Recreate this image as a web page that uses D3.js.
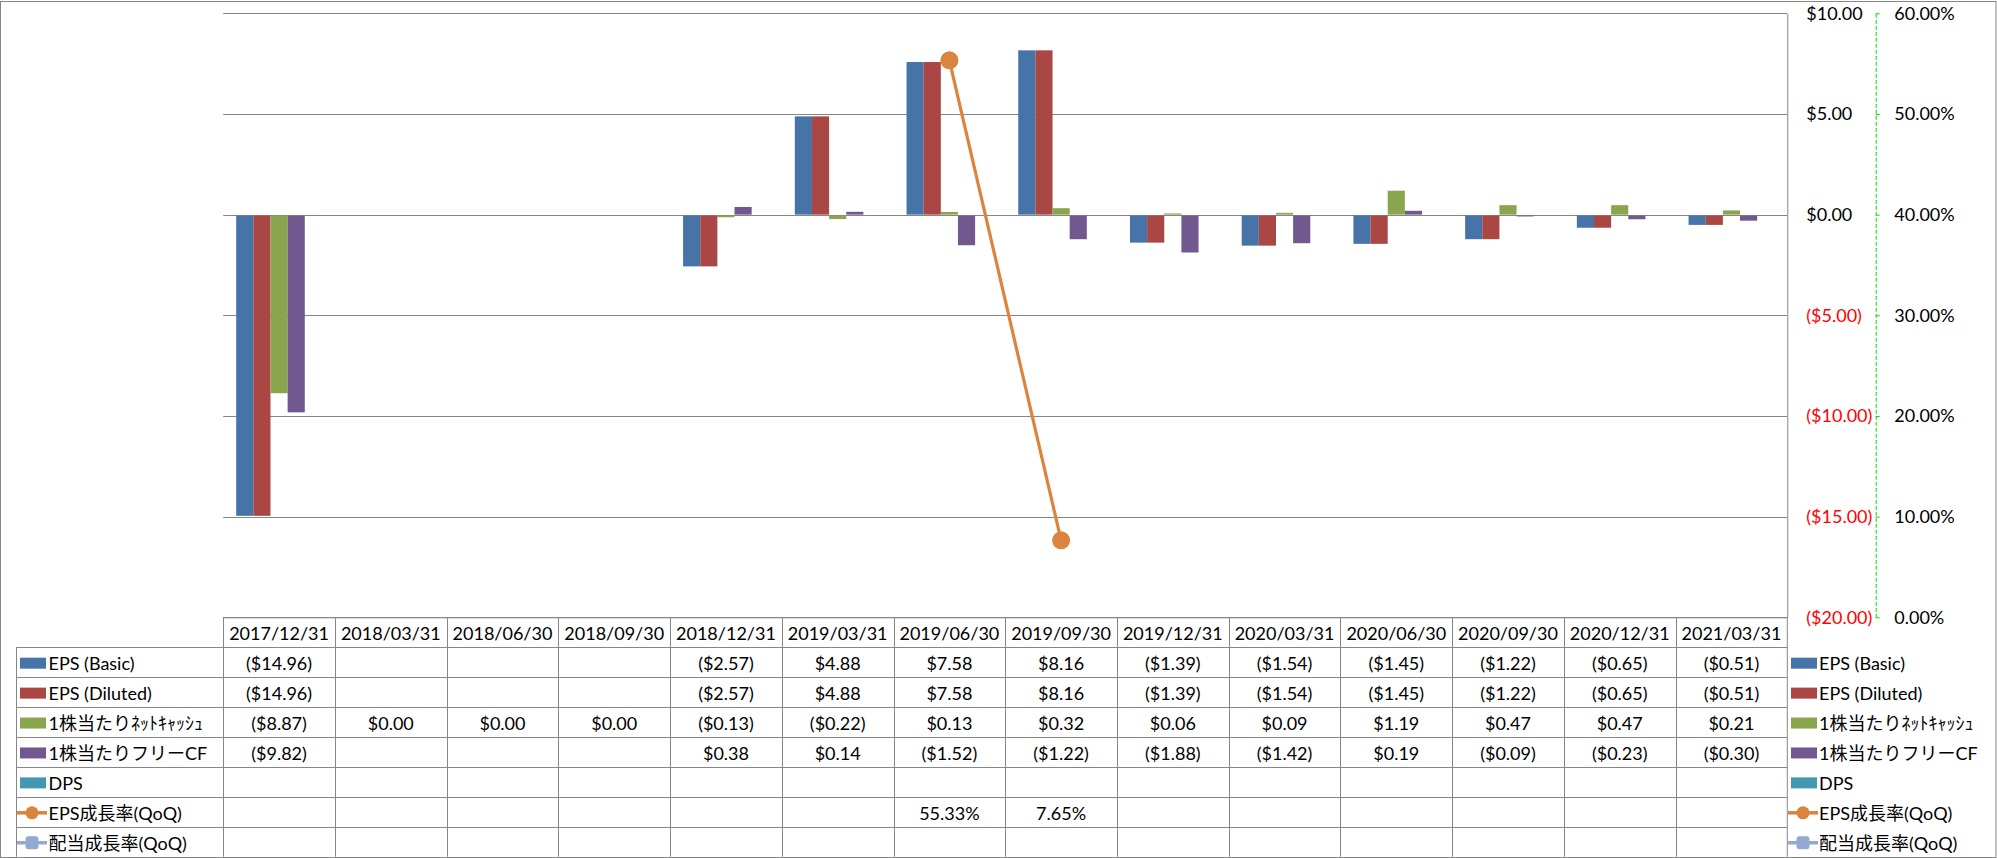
<!DOCTYPE html>
<html>
<head>
<meta charset="utf-8">
<script src="https://cdn.jsdelivr.net/npm/d3@7"></script>
<style>
  html, body { margin: 0; padding: 0; background: #fff; }
  svg { display: block; }
  text { font-family: Lato, "Noto Sans CJK JP", sans-serif; font-size: 18px; }
</style>
</head>
<body>
<svg id="chart" width="1997" height="858"></svg>
<script>
// ---- data ----
const categories = ["2017/12/31","2018/03/31","2018/06/30","2018/09/30","2018/12/31","2019/03/31","2019/06/30","2019/09/30","2019/12/31","2020/03/31","2020/06/30","2020/09/30","2020/12/31","2021/03/31"];
const seriesNames = ["EPS (Basic)","EPS (Diluted)","1株当たりﾈｯﾄｷｬｯｼｭ","1株当たりフリーCF","DPS","EPS成長率(QoQ)","配当成長率(QoQ)"];
const epsBasic   = [-14.96,null,null,null,-2.57,4.88,7.58,8.16,-1.39,-1.54,-1.45,-1.22,-0.65,-0.51];
const epsDiluted = [-14.96,null,null,null,-2.57,4.88,7.58,8.16,-1.39,-1.54,-1.45,-1.22,-0.65,-0.51];
const netCash    = [-8.87,0.00,0.00,0.00,-0.13,-0.22,0.13,0.32,0.06,0.09,1.19,0.47,0.47,0.21];
const freeCF     = [-9.82,null,null,null,0.38,0.14,-1.52,-1.22,-1.88,-1.42,0.19,-0.09,-0.23,-0.30];
const dps        = [null,null,null,null,null,null,null,null,null,null,null,null,null,null];
const epsGrowth  = [null,null,null,null,null,null,0.5533,0.0765,null,null,null,null,null,null];
const divGrowth  = [null,null,null,null,null,null,null,null,null,null,null,null,null,null];
const leftTicks  = [10,5,0,-5,-10,-15,-20];
const rightTicks = [0.6,0.5,0.4,0.3,0.2,0.1,0];

const colors = ["#4673A8","#AA4643","#89A54E","#71588F","#4198AF","#DB843D","#93A9CF"];
const barSeries = [epsBasic, epsDiluted, netCash, freeCF, dps];
const lineSeries = [epsGrowth, divGrowth];
const allSeries = [epsBasic, epsDiluted, netCash, freeCF, dps, epsGrowth, divGrowth];

// ---- layout ----
const svg = d3.select("#chart");
const W = 1997, H = 858;
const plotL = 223.2, plotR = 1787.3, plotT = 13.3, plotB = 617.3;
const tableBottom = 856.7;
const rowH = (tableBottom - plotB) / 8;
const legendL = 16.5;
const gridColor = "#868686";
const FONT = "Lato, 'Noto Sans CJK JP', sans-serif";

const x = d3.scaleBand().domain(categories).range([plotL, plotR]).padding(0);
const bw = x.bandwidth();
const gap = 26;
const x1 = d3.scaleBand().domain(d3.range(barSeries.length)).range([gap/2, bw - gap/2]).padding(0);
const yL = d3.scaleLinear().domain([-20, 10]).range([plotB, plotT]);
const yR = d3.scaleLinear().domain([0, 0.6]).range([plotB, plotT]);

const fmtCur = v => v < 0 ? "($" + Math.abs(v).toFixed(2) + ")" : "$" + v.toFixed(2);
const fmtPct = v => (v * 100).toFixed(2) + "%";

// outer border
svg.append("rect").attr("x", 0.5).attr("y", 1.5).attr("width", W - 1.5).attr("height", H - 2)
  .attr("fill", "#fff").attr("stroke", gridColor).attr("stroke-width", 1);

// gridlines
svg.append("g").selectAll("line").data(leftTicks).join("line")
  .attr("x1", plotL).attr("x2", plotR)
  .attr("y1", d => Math.round(yL(d)) + 0.5).attr("y2", d => Math.round(yL(d)) + 0.5)
  .attr("stroke", gridColor).attr("stroke-width", 1);

// bars
const barG = svg.append("g");
barSeries.forEach((vals, si) => {
  barG.append("g").selectAll("rect")
    .data(vals.map((v, i) => ({ v, c: categories[i] })).filter(d => d.v !== null))
    .join("rect")
    .attr("x", d => x(d.c) + x1(si))
    .attr("width", x1.bandwidth())
    .attr("y", d => Math.min(yL(d.v), yL(0)) + (d.v < 0 ? 1 : 0))
    .attr("height", d => Math.max(0, Math.abs(yL(d.v) - yL(0)) - (d.v < 0 ? 1 : 0)))
    .attr("fill", colors[si]);
});

// primary axis on right (vertical line at plot right)
const axL = d3.axisRight(yL).tickValues(leftTicks).tickSize(0).tickPadding(19).tickSizeOuter(0).tickFormat(fmtCur);
const gAxL = svg.append("g").attr("transform", `translate(${plotR},0)`).call(axL);
gAxL.select(".domain").attr("stroke", gridColor);
gAxL.selectAll("text").style("font-family", FONT).style("font-size", "18px")
  .style("fill", d => d < 0 ? "#FF0000" : "#000000");

// secondary axis (percent)
const axisXR = 1875.7;
const axR = d3.axisRight(yR).tickValues(rightTicks).tickSize(4).tickPadding(14.6).tickSizeOuter(0).tickFormat(d3.format(".2%"));
const gAxR = svg.append("g").attr("transform", `translate(${axisXR},0)`).call(axR);
gAxR.select(".domain").attr("stroke", "#00E000").attr("stroke-dasharray", "4,2");
gAxR.selectAll(".tick line").attr("stroke", "#00E000");
gAxR.selectAll("text").style("font-family", FONT).style("font-size", "18px").style("fill", "#000000");

// line series
lineSeries.forEach((vals, li) => {
  const pts = vals.map((v, i) => ({ v, c: categories[i] }));
  const line = d3.line().defined(d => d.v !== null).x(d => x(d.c) + bw / 2).y(d => yR(d.v));
  svg.append("path").datum(pts).attr("d", line).attr("fill", "none")
    .attr("stroke", colors[5 + li]).attr("stroke-width", 3.2);
  const g = svg.append("g");
  const valid = pts.filter(d => d.v !== null);
  if (li === 0) {
    g.selectAll("circle").data(valid).join("circle")
      .attr("cx", d => x(d.c) + bw / 2).attr("cy", d => yR(d.v)).attr("r", 9)
      .attr("fill", colors[5]);
  } else {
    g.selectAll("rect").data(valid).join("rect")
      .attr("x", d => x(d.c) + bw / 2 - 7).attr("y", d => yR(d.v) - 7)
      .attr("width", 14).attr("height", 14).attr("rx", 3).attr("fill", colors[6]);
  }
});

// ---- data table ----
const tg = svg.append("g");
tg.append("line").attr("x1", plotL).attr("x2", plotR).attr("y1", plotB + 0.5).attr("y2", plotB + 0.5)
  .attr("stroke", gridColor);
d3.range(1, 8).forEach(r => {
  const yy = Math.round(plotB + r * rowH) + 0.5;
  tg.append("line").attr("x1", legendL).attr("x2", plotR).attr("y1", yy).attr("y2", yy).attr("stroke", gridColor);
});
tg.append("line").attr("x1", legendL).attr("x2", legendL).attr("y1", plotB + rowH).attr("y2", tableBottom).attr("stroke", gridColor);
categories.forEach(c => {
  const xx = Math.round(x(c)) + 0.5;
  tg.append("line").attr("x1", xx).attr("x2", xx).attr("y1", plotB).attr("y2", tableBottom).attr("stroke", gridColor);
});
tg.append("line").attr("x1", plotR).attr("x2", plotR).attr("y1", plotB).attr("y2", tableBottom).attr("stroke", gridColor);

// header labels
tg.append("g").selectAll("text").data(categories).join("text")
  .attr("x", d => x(d) + bw / 2).attr("y", plotB + rowH / 2 + 1)
  .attr("text-anchor", "middle").attr("dominant-baseline", "central").attr("fill", "#000").text(d => d);

// values
allSeries.forEach((vals, si) => {
  const cy = plotB + (si + 1.5) * rowH + 1;
  tg.append("g").selectAll("text")
    .data(vals.map((v, i) => ({ v, c: categories[i] })).filter(d => d.v !== null))
    .join("text")
    .attr("x", d => x(d.c) + bw / 2).attr("y", cy)
    .attr("text-anchor", "middle").attr("dominant-baseline", "central").attr("fill", "#000")
    .text(d => si >= 5 ? fmtPct(d.v) : fmtCur(d.v));
});

// legend keys (left in table + right side)
function legendKey(g, si, x0, cy) {
  if (si < 5) {
    g.append("rect").attr("x", x0).attr("y", cy - 5.5).attr("width", 26).attr("height", 11).attr("fill", colors[si]);
  } else {
    g.append("line").attr("x1", x0 - 3).attr("x2", x0 + 27).attr("y1", cy).attr("y2", cy)
      .attr("stroke", colors[si]).attr("stroke-width", 3.5);
    if (si === 5) {
      g.append("circle").attr("cx", x0 + 12).attr("cy", cy).attr("r", 6.5).attr("fill", colors[si]);
    } else {
      g.append("rect").attr("x", x0 + 5.5).attr("y", cy - 6.5).attr("width", 13).attr("height", 13).attr("rx", 3).attr("fill", colors[si]);
    }
  }
}
const lg = svg.append("g");
seriesNames.forEach((name, si) => {
  const cy = plotB + (si + 1.5) * rowH + 1;
  legendKey(lg, si, 20, cy);
  lg.append("text").attr("x", 48.5).attr("y", cy).attr("dominant-baseline", "central").attr("fill", "#000").text(name);
  legendKey(lg, si, 1791, cy);
  lg.append("text").attr("x", 1819).attr("y", cy).attr("dominant-baseline", "central").attr("fill", "#000").text(name);
});
</script>
</body>
</html>
